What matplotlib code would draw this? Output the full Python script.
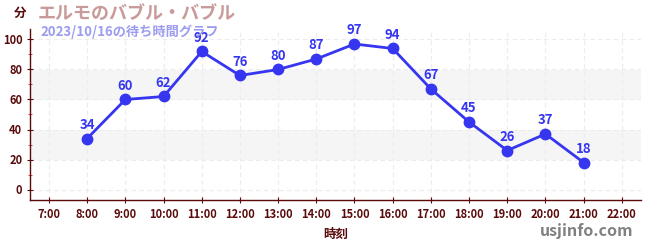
import matplotlib
matplotlib.use("Agg")
import matplotlib.pyplot as plt

plt.rcParams['font.family'] = ['Noto Sans CJK JP', 'DejaVu Sans']

hours = [8, 9, 10, 11, 12, 13, 14, 15, 16, 17, 18, 19, 20, 21]
waits = [34, 60, 62, 92, 76, 80, 87, 97, 94, 67, 45, 26, 37, 18]
xticks = list(range(7, 23))
xticklabels = [f"{h}:00" for h in xticks]
yticks = [0, 20, 40, 60, 80, 100]

dark = '#5a0a0a'
blue = '#3636f0'

fig = plt.figure(figsize=(6.5, 2.5), dpi=100)
ax = fig.add_axes([0.046, 0.2, 0.94, 0.684])
ax.set_xlim(6.5, 22.5)
ax.set_ylim(-7, 107)

for lo, hi in [(20, 40), (60, 80)]:
    ax.axhspan(lo, hi, color='#f5f5f5', zorder=0, lw=0)

ax.set_xticks(xticks)
ax.set_xticklabels(xticklabels)
ax.set_yticks(yticks)
ax.set_yticks([10, 30, 50, 70, 90], minor=True)
ax.grid(True, which='major', color='#ececec', ls=(0, (4, 3)), lw=0.8, zorder=0.5)

ax.plot(hours, waits, color=blue, lw=2, marker='o', ms=7.5, zorder=3)
for h, w in zip(hours, waits):
    ax.annotate(str(w), (h, w), xytext=(0, 5), textcoords='offset points',
                ha='center', va='bottom', color=blue, fontsize=9.5, fontweight='bold', zorder=4)

for s in ['top', 'right']:
    ax.spines[s].set_visible(False)
for s in ['left', 'bottom']:
    ax.spines[s].set_color(dark)
    ax.spines[s].set_linewidth(1.0)

ax.tick_params(axis='both', which='major', colors=dark, labelsize=8, length=4, direction='inout')
ax.tick_params(axis='y', which='minor', colors='#dd2222', length=3, direction='inout')
for lbl in ax.get_xticklabels() + ax.get_yticklabels():
    lbl.set_fontweight('bold')
    lbl.set_color(dark)

ax.set_xlabel('時刻', color=dark, fontsize=9, fontweight='bold', labelpad=5)

fig.text(0.022, 0.945, '分', color=dark, fontsize=9, fontweight='bold', va='center', ha='left')
fig.text(0.058, 0.945, 'エルモのバブル・バブル', color='#c99a9a', fontsize=13, fontweight='bold', va='center', ha='left')
fig.text(0.062, 0.872, '2023/10/16の待ち時間グラフ', color='#9c9cf0', fontsize=9.5, fontweight='bold', va='center', ha='left')
fig.text(0.975, 0.075, 'usjinfo.com', color='#808080', fontsize=11.5, fontweight='bold', va='center', ha='right')

fig.savefig('out.png', dpi=100)
